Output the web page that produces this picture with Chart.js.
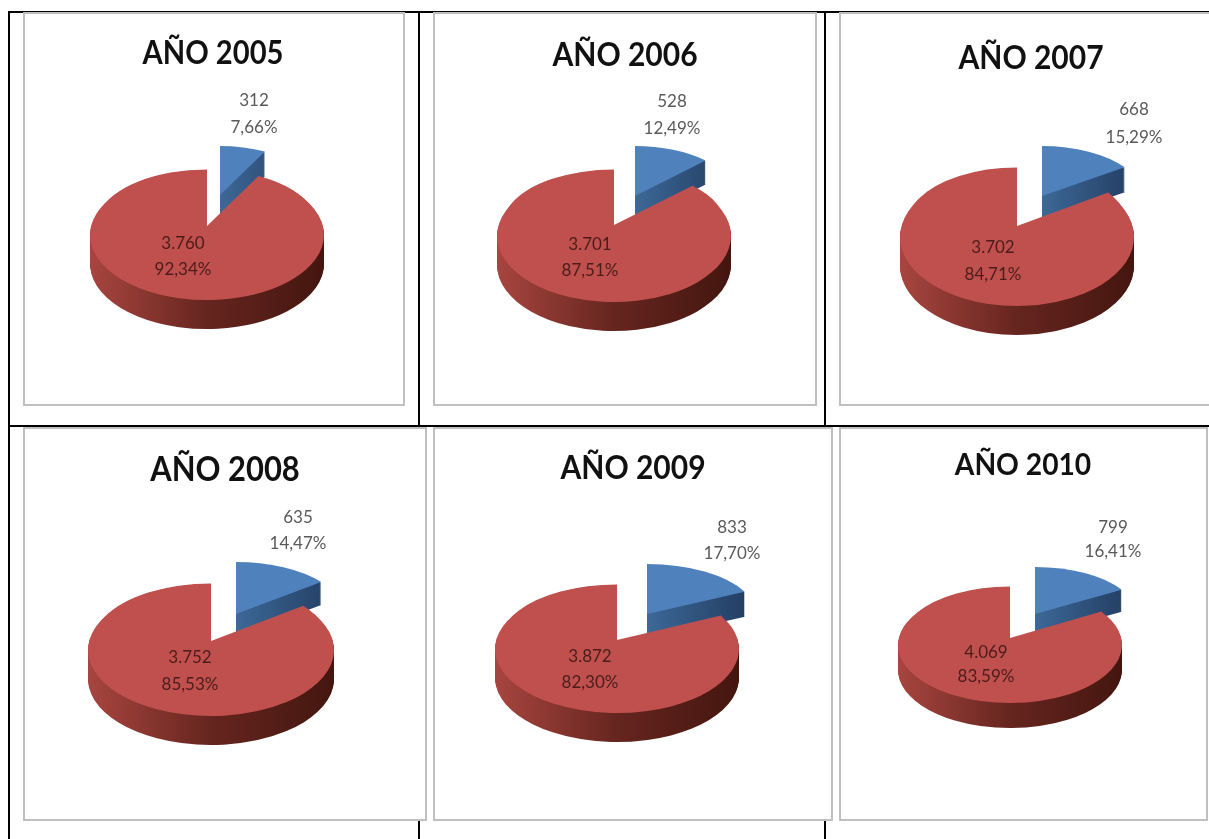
<!DOCTYPE html>
<html>
<head>
<meta charset="utf-8">
<title>AÑO 2005 - 2010</title>
<script src="https://cdn.jsdelivr.net/npm/chart.js@4"></script>
<style>
  html, body { margin: 0; padding: 0; background: #fff; overflow: hidden; width: 1209px; height: 839px; }
  .rule { position: absolute; background: #000; }
  .panel { position: absolute; box-sizing: border-box; border: 2px solid #bfbfbf; background: #fff; }
  canvas { position: absolute; left: -2px; top: -2px; filter: blur(0.5px); }
</style>
</head>
<body>
<script>
const years = ['2005', '2006', '2007', '2008', '2009', '2010'];
const sliceNames = ['Serie 1', 'Serie 2'];
const blueValues = [312, 528, 668, 635, 833, 799];
const redValues = [3760, 3701, 3702, 3752, 3872, 4069];

// page layout of the six boxes and black table lines
const panels = [
  { x: 23, y: 12, w: 382, h: 394 },
  { x: 433, y: 12, w: 384, h: 394 },
  { x: 839, y: 12, w: 380, h: 394 },
  { x: 23, y: 427, w: 404, h: 394 },
  { x: 433, y: 427, w: 400, h: 394 },
  { x: 839, y: 427, w: 369, h: 394 }
];
const rules = [
  [8, 11, 1201, 2], [8, 425, 1201, 2], [8, 11, 2, 828],
  [418, 11, 2, 414], [824, 11, 2, 414], [418, 820, 2, 19], [824, 820, 2, 19]
];

// red disc and blue wedge geometry, page coordinates
// lift: how far the perspective pushes the disc's tip above the ellipse centre
const discs = [
  { cx: 207, cy: 235, rx: 117, ry: 65, depth: 29, lift: 9 },
  { cx: 614, cy: 236, rx: 117, ry: 66, depth: 29, lift: 11 },
  { cx: 1017, cy: 237, rx: 117, ry: 69, depth: 29, lift: 11 },
  { cx: 211, cy: 650, rx: 123, ry: 66, depth: 29, lift: 9 },
  { cx: 617, cy: 649, rx: 122, ry: 64, depth: 29, lift: 9 },
  { cx: 1010, cy: 645, rx: 112, ry: 58, depth: 25, lift: 7 }
];
const wedges = [
  { ax: 220, ay: 195, rx: 97, ry: 49, depth: 25 },
  { ax: 635, ay: 196, rx: 100, ry: 50, depth: 24 },
  { ax: 1042, ay: 196, rx: 101, ry: 50, depth: 25 },
  { ax: 236, ay: 614, rx: 108, ry: 52, depth: 23 },
  { ax: 647, ay: 614, rx: 109, ry: 50, depth: 25 },
  { ax: 1035, ay: 614, rx: 101, ry: 47, depth: 22 }
];
const titles = [
  { x: 213, y: 54, size: 32 }, { x: 625, y: 55, size: 33 }, { x: 1031, y: 58, size: 33 },
  { x: 225, y: 470, size: 34 }, { x: 633, y: 468, size: 33 }, { x: 1023, y: 465, size: 31 }
];
const blueLabels = [
  { x: 254, y: 101, y2: 128 }, { x: 672, y: 102, y2: 129 }, { x: 1134, y: 110, y2: 138 },
  { x: 298, y: 518, y2: 544 }, { x: 732, y: 528, y2: 554 }, { x: 1113, y: 528, y2: 552 }
];
const redLabels = [
  { x: 183, y: 244, y2: 270 }, { x: 590, y: 245, y2: 271 }, { x: 993, y: 248, y2: 275 },
  { x: 190, y: 658, y2: 685 }, { x: 590, y: 657, y2: 683 }, { x: 986, y: 653, y2: 677 }
];

function thousands(n) {
  return String(n).replace(/\B(?=(\d{3})+$)/g, '.');
}

function percent(part, total) {
  return (part / total * 100).toFixed(2).replace('.', ',') + '%';
}

rules.forEach((r) => {
  const el = document.createElement('div');
  el.className = 'rule';
  el.style.cssText = `left:${r[0]}px;top:${r[1]}px;width:${r[2]}px;height:${r[3]}px`;
  document.body.appendChild(el);
});

// draws the arc squashed to an ellipse with the given fill
function drawFlat(ctx, arc, px, py, rx, ry, fill) {
  const r = arc.outerRadius;
  const base = arc.options;
  arc.options = Object.assign({}, base, { backgroundColor: fill, borderWidth: 0 });
  ctx.save();
  ctx.translate(px, py);
  ctx.scale(rx / r, ry / r);
  ctx.translate(-arc.x, -arc.y);
  arc.draw(ctx);
  ctx.restore();
  arc.options = base;
}

function drawSides(ctx, arc, px, py, rx, ry, depth, stops, gradFrom, gradTo) {
  const grad = ctx.createLinearGradient(gradFrom, 0, gradTo, 0);
  stops.forEach((s) => grad.addColorStop(s[0], s[1]));
  for (let d = depth; d > 0; d--) {
    drawFlat(ctx, arc, px, py + d, rx, ry, grad);
  }
}

const pie3d = {
  id: 'pie3d',
  beforeDatasetsDraw(chart, args, opts) {
    const ctx = chart.ctx;
    const [blue, red] = chart.getDatasetMeta(0).data;
    const { panel, disc, wedge } = opts;
    const r = blue.outerRadius;
    const ax = wedge.ax - panel.x;
    const ay = wedge.ay - panel.y;
    drawSides(ctx, blue, ax, ay, wedge.rx, wedge.ry, wedge.depth,
      [[0, '#3d6897'], [1, '#203a5e']], blue.x, blue.x + r);
    drawFlat(ctx, blue, ax, ay, wedge.rx, wedge.ry, '#4f81bd');

    const cx = disc.cx - panel.x;
    const cy = disc.cy - panel.y;
    drawSides(ctx, red, cx, cy, disc.rx, disc.ry, disc.depth,
      [[0, '#a8453f'], [0.5, '#66251f'], [1, '#44160f']], red.x - r, red.x + r);
    drawFlat(ctx, red, cx, cy, disc.rx, disc.ry, '#c0504d');
    drawFlat(ctx, red, cx, cy - disc.lift, disc.rx * 0.95, disc.ry - disc.lift + 0.5, '#c0504d');
    return false;
  },
  afterDraw(chart, args, opts) {
    const ctx = chart.ctx;
    const { panel, title, blueLabel, redLabel, year, blueValue, redValue } = opts;
    const total = blueValue + redValue;
    ctx.save();
    ctx.textAlign = 'center';
    ctx.textBaseline = 'middle';
    ctx.fillStyle = '#111';
    ctx.font = `bold ${title.size}px Lato`;
    // Lato runs wider than the original face, so pull the title in
    ctx.save();
    ctx.translate(title.x - panel.x, title.y - panel.y);
    ctx.scale(0.91, 1);
    ctx.fillText('AÑO ' + year, 0, 0);
    ctx.restore();
    ctx.font = '17px Lato';
    ctx.fillStyle = '#595959';
    ctx.fillText(thousands(blueValue), blueLabel.x - panel.x, blueLabel.y - panel.y);
    ctx.fillText(percent(blueValue, total), blueLabel.x - panel.x, blueLabel.y2 - panel.y);
    ctx.fillStyle = '#4a1c1a';
    ctx.fillText(thousands(redValue), redLabel.x - panel.x, redLabel.y - panel.y);
    ctx.fillText(percent(redValue, total), redLabel.x - panel.x, redLabel.y2 - panel.y);
    ctx.restore();
  }
};

years.forEach((year, i) => {
  const panel = panels[i];
  const box = document.createElement('div');
  box.className = 'panel';
  box.style.cssText = `left:${panel.x}px;top:${panel.y}px;width:${panel.w}px;height:${panel.h}px`;
  const canvas = document.createElement('canvas');
  canvas.width = panel.w;
  canvas.height = panel.h;
  box.appendChild(canvas);
  document.body.appendChild(box);

  new Chart(canvas, {
    type: 'pie',
    data: {
      labels: sliceNames,
      datasets: [{
        data: [blueValues[i], redValues[i]],
        backgroundColor: ['#4f81bd', '#c0504d'],
        borderWidth: 0
      }]
    },
    options: {
      responsive: false,
      animation: false,
      radius: 120,
      plugins: {
        legend: { display: false },
        tooltip: { enabled: false },
        pie3d: {
          panel,
          disc: discs[i],
          wedge: wedges[i],
          title: titles[i],
          blueLabel: blueLabels[i],
          redLabel: redLabels[i],
          year,
          blueValue: blueValues[i],
          redValue: redValues[i]
        }
      }
    },
    plugins: [pie3d]
  });
});
</script>
</body>
</html>
